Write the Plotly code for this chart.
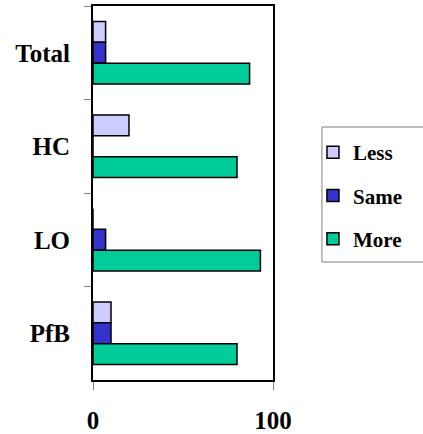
import plotly.graph_objects as go

# Response shares (%) per group
groups = ["Total", "HC", "LO", "PfB"]
less = [7, 20, 0, 10]
same = [7, 0, 7, 10]
more = [87, 80, 93, 80]

series = [
    ("Less", less, "#CCCCFF"),
    ("Same", same, "#3333CC"),
    ("More", more, "#00CC99"),
]

fig = go.Figure()
for i, (name, vals, color) in enumerate(series):
    fig.add_trace(go.Bar(
        y=groups, x=vals, name=name, orientation="h",
        marker=dict(color=color, line=dict(color="black", width=1.5)),
        legendgroup=f"g{i}",
    ))

font_family = "Liberation Serif, Times New Roman, serif"

fig.update_layout(
    width=423, height=434,
    margin=dict(l=93, r=150, t=6, b=54),
    paper_bgcolor="white", plot_bgcolor="white",
    barmode="group", bargap=0.33, bargroupgap=0,
    font=dict(family=font_family, color="black"),
    showlegend=True,
    legend=dict(
        x=1.222, xanchor="left", y=0.663, yanchor="top",
        font=dict(family=font_family, size=21, color="black", weight="bold"),
        tracegroupgap=13, itemwidth=30,
        bgcolor="rgba(0,0,0,0)", borderwidth=0,
    ),
    shapes=[dict(
        type="rect", xref="paper", yref="paper",
        x0=1.272, x1=1.9, y0=0.3155, y1=0.6765,
        line=dict(color="#808080", width=1), fillcolor="rgba(0,0,0,0)",
        layer="below",
    )],
)

fig.update_xaxes(
    range=[0, 100], tickvals=[0, 100], ticktext=["0", "100"],
    showgrid=False, zeroline=False, automargin=False,
    showline=True, linecolor="black", linewidth=2, mirror=True,
    ticks="outside", ticklen=8, tickcolor="#808080", tickwidth=1,
    tickfont=dict(family=font_family, size=25, color="black", weight="bold"),
    ticklabelstandoff=9,
)
fig.update_yaxes(
    categoryorder="array", categoryarray=groups, autorange="reversed",
    showgrid=False, zeroline=False, automargin=False,
    showline=True, linecolor="black", linewidth=2, mirror=True,
    ticks="outside", ticklen=7, tickcolor="#808080", tickwidth=1,
    tickson="boundaries",
    tickfont=dict(family=font_family, size=25, color="black", weight="bold"),
    ticklabelstandoff=16,
)

fig.write_html("out.html")
